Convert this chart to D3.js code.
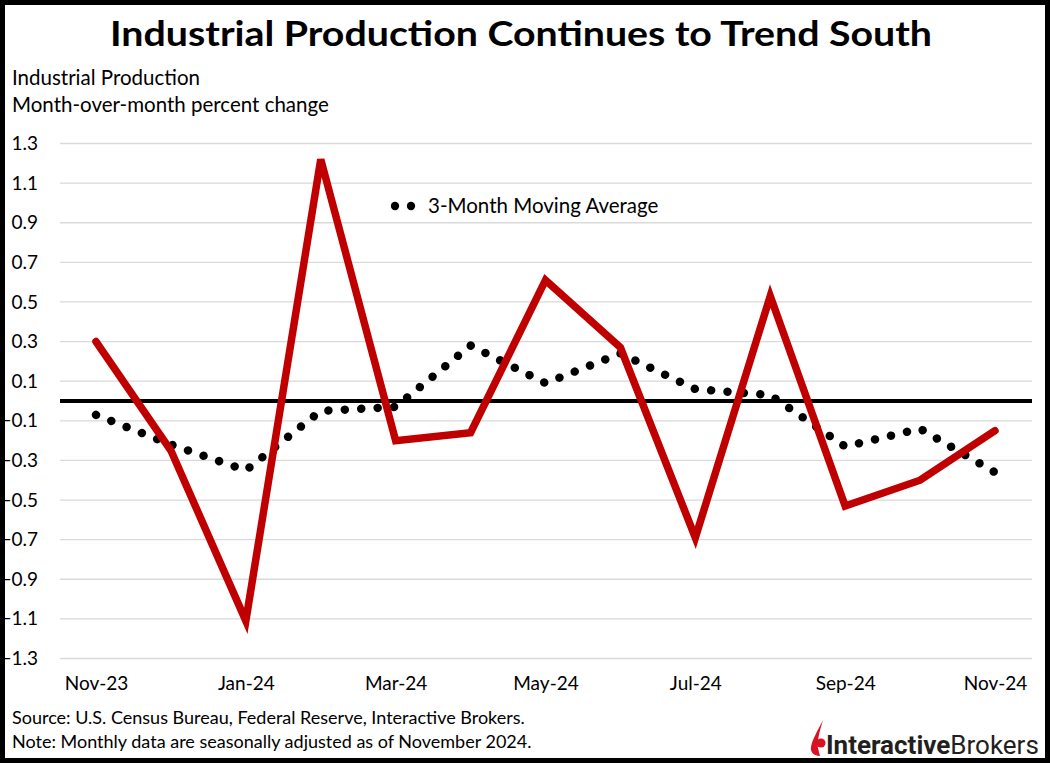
<!DOCTYPE html>
<html><head><meta charset="utf-8">
<script src="https://cdn.jsdelivr.net/npm/d3@7"></script>
<style>html,body{margin:0;padding:0;background:#fff;}svg{display:block;}</style>
</head><body>
<svg id="chart" width="1050" height="763"></svg>
<script>
const months = ["Nov-23","Dec-23","Jan-24","Feb-24","Mar-24","Apr-24","May-24","Jun-24","Jul-24","Aug-24","Sep-24","Oct-24","Nov-24"];
const monthlyChange = [0.30,-0.25,-1.11,1.22,-0.20,-0.16,0.61,0.27,-0.69,0.53,-0.53,-0.40,-0.15];
const movingAverage = [-0.07,-0.22,-0.35,-0.05,-0.03,0.28,0.09,0.24,0.06,0.03,-0.23,-0.14,-0.36];
const yTicks = [1.3,1.1,0.9,0.7,0.5,0.3,0.1,-0.1,-0.3,-0.5,-0.7,-0.9,-1.1,-1.3];
const xLabels = ["Nov-23","Jan-24","Mar-24","May-24","Jul-24","Sep-24","Nov-24"];

const svg = d3.select("#chart");
const W = 1050, H = 763;
const font = "Lato, 'Open Sans', sans-serif";

const x = d3.scalePoint().domain(months).range([96, 995]);
const y = d3.scaleLinear().domain([-1.3, 1.3]).range([658.5, 143.5]);

// gridlines
svg.append("g").selectAll("line").data(yTicks).join("line")
  .attr("x1", 60).attr("x2", 1032)
  .attr("y1", d => y(d)).attr("y2", d => y(d))
  .attr("stroke", "#d9d9d9").attr("stroke-width", 1.3);

// zero line
svg.append("line").attr("x1", 60).attr("x2", 1032)
  .attr("y1", y(0)).attr("y2", y(0)).attr("stroke", "#000").attr("stroke-width", 4);

// y axis labels
const yAxis = d3.axisLeft(y).tickValues(yTicks).tickSize(0).tickPadding(0).tickFormat(d3.format(".1f"));
const gy = svg.append("g").attr("transform", "translate(38,0)").call(yAxis);
gy.select(".domain").remove();
gy.selectAll("text").attr("font-family", font).attr("font-size", 19).attr("fill", "#000");

// x axis labels
const xAxis = d3.axisBottom(x).tickValues(xLabels).tickSize(0).tickPadding(0);
const gx = svg.append("g").attr("transform", "translate(0,676)").call(xAxis);
gx.select(".domain").remove();
gx.selectAll("text").attr("font-family", font).attr("font-size", 19).attr("fill", "#000");

// moving average dotted
const lineMA = d3.line().x((d, i) => x(months[i])).y(d => y(d));
const ma = svg.append("path").datum(movingAverage).attr("d", lineMA)
  .attr("fill", "none").attr("stroke", "#000").attr("stroke-width", 8.5)
  .attr("stroke-linecap", "round");
const L = ma.node().getTotalLength();
const nDots = Math.round(L / 16.5);
const gap = (L - 1.5) / nDots;
ma.attr("stroke-dasharray", `0.01 ${gap - 0.01}`);

// red line
const lineR = d3.line().x((d, i) => x(months[i])).y(d => y(d));
svg.append("path").datum(monthlyChange).attr("d", lineR)
  .attr("fill", "none").attr("stroke", "#c00000").attr("stroke-width", 7.5)
  .attr("stroke-linecap", "round").attr("stroke-linejoin", "miter");

// legend
const lg = svg.append("g");
lg.selectAll("circle").data([395, 411]).join("circle")
  .attr("cx", d => d).attr("cy", 206).attr("r", 4.2).attr("fill", "#000");
lg.append("text").attr("x", 428).attr("y", 213).attr("font-family", font)
  .attr("font-size", 20.5).text("3-Month Moving Average");

// title
svg.append("text").attr("x", 521).attr("y", 46).attr("text-anchor", "middle")
  .attr("font-family", font).attr("font-weight", "bold").attr("font-size", 35)
  .attr("textLength", 822).attr("lengthAdjust", "spacingAndGlyphs")
  .text("Industrial Production Continues to Trend South");

// subtitle
svg.append("text").attr("x", 12).attr("y", 85).attr("font-family", font).attr("font-size", 20.5)
  .text("Industrial Production");
svg.append("text").attr("x", 12).attr("y", 112).attr("font-family", font).attr("font-size", 20.5)
  .text("Month-over-month percent change");

// footer
svg.append("text").attr("x", 12).attr("y", 724).attr("font-family", font).attr("font-size", 18)
  .text("Source: U.S. Census Bureau, Federal Reserve, Interactive Brokers.");
svg.append("text").attr("x", 12).attr("y", 748).attr("font-family", font).attr("font-size", 18)
  .text("Note: Monthly data are seasonally adjusted as of November 2024.");

// logo
const logo = svg.append("g");
logo.append("path").attr("d", "M823,720 C818,730 812,740 811,747 C810,752 814,756 820,756 L818,748 C817,740 820,730 823,720 Z").attr("fill", "#d81222");
logo.append("circle").attr("cx", 821).attr("cy", 743).attr("r", 4.5).attr("fill", "#d81222");
const lt = logo.append("text").attr("x", 826).attr("y", 754).attr("font-family", "Roboto, 'Liberation Sans', sans-serif")
  .attr("font-size", 26).attr("fill", "#231f20");
lt.append("tspan").attr("font-weight", "bold").text("Interactive");
lt.append("tspan").text("Brokers");

// frame
svg.append("rect").attr("x", 0).attr("y", 0).attr("width", W).attr("height", H)
  .attr("fill", "none").attr("stroke", "#000").attr("stroke-width", 10);
</script>
</body></html>
